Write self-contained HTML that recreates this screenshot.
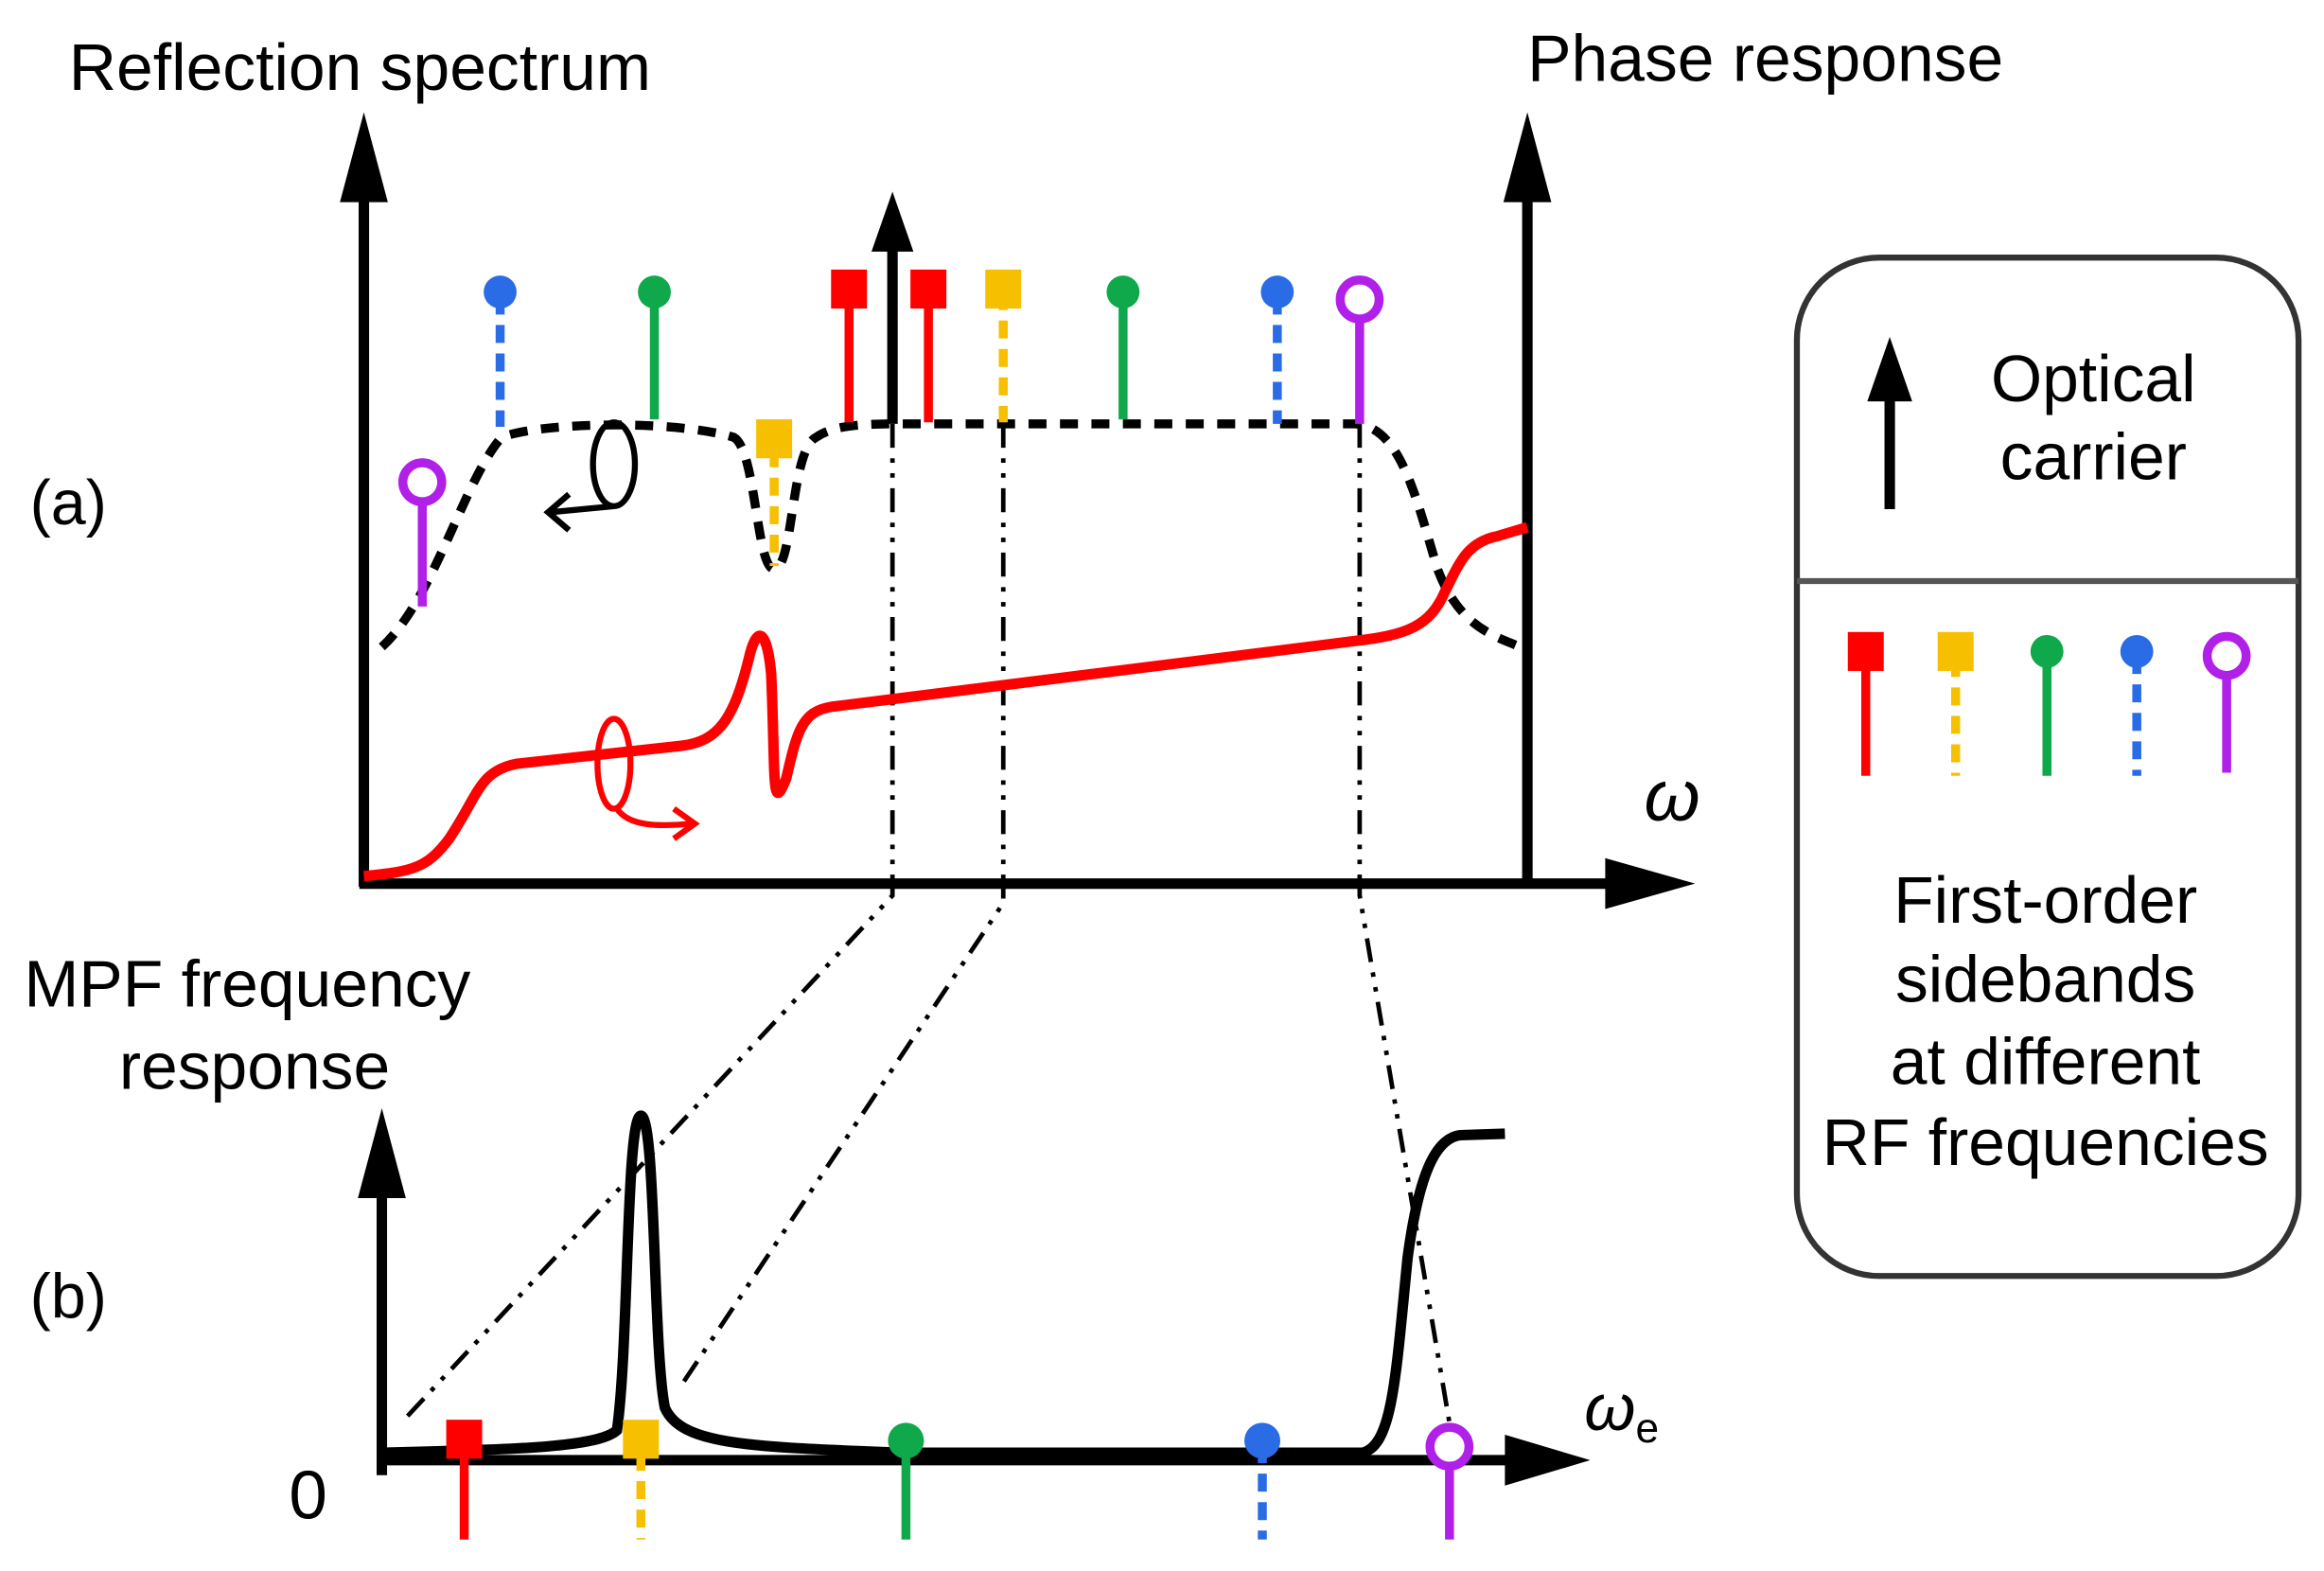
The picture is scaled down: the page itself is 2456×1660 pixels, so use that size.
<!DOCTYPE html>
<html><head><style>html,body{margin:0;padding:0;background:#fff}svg{display:block}</style></head>
<body>
<svg width="2456" height="1660" viewBox="0 0 1552 1049" xmlns="http://www.w3.org/2000/svg" font-family="Liberation Sans, sans-serif">
<rect width="1552" height="1049" fill="#fff"/>
<text x="46" y="60" font-size="44">Reflection spectrum</text>
<text x="1020" y="54" font-size="44">Phase response</text>
<text x="20" y="350" font-size="42">(a)</text>
<text x="20" y="880" font-size="42">(b)</text>
<text x="16" y="672" font-size="44">MPF frequency</text>
<text x="170" y="727" font-size="44" text-anchor="middle">response</text>
<text x="1098" y="548" font-size="48" font-style="italic">ω</text>
<text x="1058" y="955" font-size="44" font-style="italic">ω<tspan font-size="28" font-style="normal" dy="8">e</tspan></text>
<text x="193" y="1014" font-size="46">0</text>

<g stroke="#000" stroke-width="7" fill="none">
<line x1="243" y1="592" x2="243" y2="130"/>
<line x1="1020" y1="592" x2="1020" y2="130"/>
<line x1="240" y1="590" x2="1080" y2="590"/>
<line x1="596" y1="283" x2="596" y2="160"/>
</g>
<polygon points="243,75 227,135 259,135" fill="#000"/>
<polygon points="1020,75 1004,135 1036,135" fill="#000"/>
<polygon points="1132,590 1072,573 1072,607" fill="#000"/>
<polygon points="596,128 582,168 610,168" fill="#000"/>

<g stroke="#000" stroke-width="3" fill="none" stroke-dasharray="16 7 3 7 3 7">
<polyline points="596,283 596,598 268,950"/>
<polyline points="670,283 670,603 453,928"/>
<polyline points="908,283 908,598 970,962"/>
</g>

<path d="M255,432 C290,400 310,320 335,292 C360,282 450,280 490,292 C505,300 505,380 517,380 C530,380 528,300 545,292 C555,285 570,283 600,283 L905,283 C935,285 945,330 960,380 C975,420 1000,425 1015,432" stroke="#000" stroke-width="6" fill="none" stroke-dasharray="12 9"/>
<ellipse cx="410" cy="310" rx="14" ry="28" stroke="#000" stroke-width="4" fill="none"/>
<path d="M410,338 L368,342" stroke="#000" stroke-width="4"/>
<polyline points="380,330 366,342 380,354" stroke="#000" stroke-width="4" fill="none"/>

<path d="M243,585 C275,582 285,580 300,560 C320,530 320,515 345,510 L455,498 C480,495 490,480 500,440 C505,418 512,418 515,450 C518,520 515,545 525,520 C532,490 535,475 555,472 L905,428 C940,424 955,418 965,395 C975,375 980,362 1000,358 L1020,352" stroke="#f00" stroke-width="7" fill="none"/>
<ellipse cx="410" cy="510" rx="11" ry="30" stroke="#f00" stroke-width="4" fill="none"/>
<path d="M412,540 C420,552 440,552 462,550" stroke="#f00" stroke-width="4" fill="none"/>
<polyline points="450,540 464,550 450,560" stroke="#f00" stroke-width="4" fill="none"/>

<g stroke-width="6">
<line x1="334" y1="198" x2="334" y2="285" stroke="#2a6be6" stroke-dasharray="12 7"/><circle cx="334" cy="195" r="11" fill="#2a6be6"/>
<line x1="437" y1="198" x2="437" y2="280" stroke="#0fa84a"/><circle cx="437" cy="195" r="11" fill="#0fa84a"/>
<line x1="567" y1="195" x2="567" y2="282" stroke="#f00"/><rect x="555" y="180" width="24" height="26" fill="#f00" stroke="none"/>
<line x1="620" y1="195" x2="620" y2="282" stroke="#f00"/><rect x="608" y="180" width="24" height="26" fill="#f00" stroke="none"/>
<line x1="670" y1="195" x2="670" y2="282" stroke="#f6c000" stroke-dasharray="12 7"/><rect x="658" y="180" width="24" height="26" fill="#f6c000" stroke="none"/>
<line x1="750" y1="198" x2="750" y2="280" stroke="#0fa84a"/><circle cx="750" cy="195" r="11" fill="#0fa84a"/>
<line x1="853" y1="198" x2="853" y2="283" stroke="#2a6be6" stroke-dasharray="12 7"/><circle cx="853" cy="195" r="11" fill="#2a6be6"/>
<line x1="908" y1="213" x2="908" y2="283" stroke="#b020e8"/><circle cx="908" cy="200" r="13" fill="#fff" stroke="#b020e8" stroke-width="6"/>
<line x1="282" y1="336" x2="282" y2="405" stroke="#b020e8"/><circle cx="282" cy="322" r="13" fill="#fff" stroke="#b020e8" stroke-width="6"/>
<line x1="517" y1="300" x2="517" y2="378" stroke="#f6c000" stroke-dasharray="12 7"/><rect x="505" y="280" width="24" height="26" fill="#f6c000" stroke="none"/>
</g>

<g stroke="#000" stroke-width="7" fill="none">
<line x1="255" y1="985" x2="255" y2="790"/>
<line x1="252" y1="975" x2="1010" y2="975"/>
</g>
<polygon points="255,740 239,800 271,800" fill="#000"/>
<polygon points="1062,975 1005,958 1005,992" fill="#000"/>
<path d="M255,970 C350,968 400,966 412,955 C420,900 418,745 428,745 C438,745 436,900 444,940 C455,965 500,966 600,970 L910,970 C930,965 932,920 940,840 C948,780 960,760 975,758 L1005,757" stroke="#000" stroke-width="7" fill="none"/>

<g stroke-width="6">
<line x1="310" y1="970" x2="310" y2="1028" stroke="#f00"/><rect x="298" y="948" width="24" height="26" fill="#f00"/>
<line x1="428" y1="970" x2="428" y2="1028" stroke="#f6c000" stroke-dasharray="12 7"/><rect x="416" y="948" width="24" height="26" fill="#f6c000"/>
<line x1="605" y1="965" x2="605" y2="1028" stroke="#0fa84a"/><circle cx="605" cy="962" r="12" fill="#0fa84a"/>
<line x1="843" y1="965" x2="843" y2="1028" stroke="#2a6be6" stroke-dasharray="12 7"/><circle cx="843" cy="962" r="12" fill="#2a6be6"/>
<line x1="968" y1="980" x2="968" y2="1028" stroke="#b020e8"/><circle cx="968" cy="966" r="13" fill="#fff" stroke="#b020e8" stroke-width="6"/>
</g>

<rect x="1200" y="172" width="335" height="680" rx="55" fill="#fff" stroke="#333" stroke-width="4"/>
<line x1="1200" y1="388" x2="1535" y2="388" stroke="#555" stroke-width="4"/>
<line x1="1262" y1="340" x2="1262" y2="260" stroke="#000" stroke-width="7"/>
<polygon points="1262,225 1247,268 1277,268" fill="#000"/>
<text x="1398" y="268" font-size="44" text-anchor="middle">Optical</text>
<text x="1398" y="320" font-size="44" text-anchor="middle">carrier</text>
<g stroke-width="6">
<line x1="1246" y1="440" x2="1246" y2="518" stroke="#f00"/><rect x="1234" y="422" width="24" height="26" fill="#f00"/>
<line x1="1306" y1="440" x2="1306" y2="518" stroke="#f6c000" stroke-dasharray="12 7"/><rect x="1294" y="422" width="24" height="26" fill="#f6c000"/>
<line x1="1367" y1="438" x2="1367" y2="518" stroke="#0fa84a"/><circle cx="1367" cy="435" r="11" fill="#0fa84a"/>
<line x1="1427" y1="438" x2="1427" y2="518" stroke="#2a6be6" stroke-dasharray="12 7"/><circle cx="1427" cy="435" r="11" fill="#2a6be6"/>
<line x1="1487" y1="450" x2="1487" y2="516" stroke="#b020e8"/><circle cx="1487" cy="438" r="13" fill="#fff" stroke="#b020e8" stroke-width="6"/>
</g>
<g font-size="44" text-anchor="middle">
<text x="1366" y="616">First-order</text>
<text x="1366" y="669">sidebands</text>
<text x="1366" y="724">at different</text>
<text x="1366" y="778">RF frequencies</text>
</g>
</svg>
</body></html>
